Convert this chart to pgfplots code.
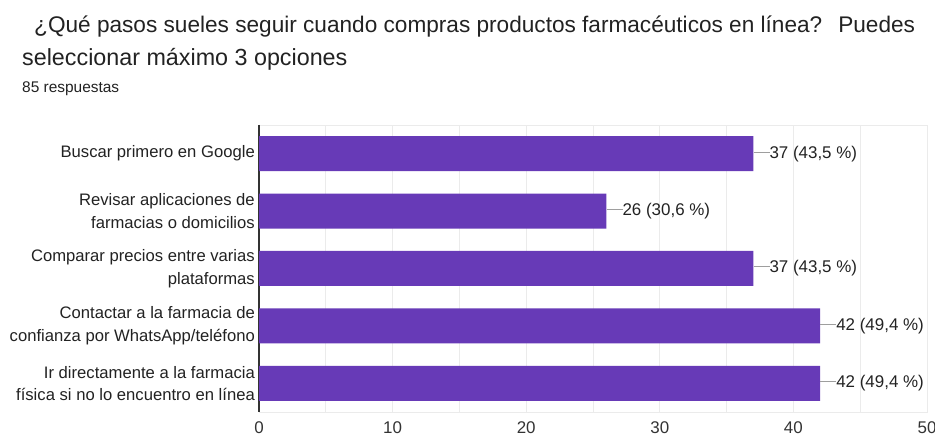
\documentclass[border=0pt]{standalone}
\usepackage{fontspec}
\setmainfont{Liberation Sans}
\usepackage{pgfplots}
\pgfplotsset{compat=1.18}
\definecolor{barc}{HTML}{673AB7}
\definecolor{gridc}{HTML}{EBEBEB}
\definecolor{axisc}{HTML}{333333}
\definecolor{txt}{HTML}{222222}
\definecolor{lead}{HTML}{9E9E9E}
\begin{document}
\begin{tikzpicture}[x=1bp,y=1bp]
\useasboundingbox (0,0) rectangle (935,438);
\node[anchor=base west, inner sep=0, font=\fontsize{22.7}{28}\selectfont, text=txt] at (34,405) {¿Qué pasos sueles seguir cuando compras productos farmacéuticos en línea?\hspace{16bp}Puedes};
\node[anchor=base west, inner sep=0, font=\fontsize{23.4}{28}\selectfont, text=txt] at (22,372) {seleccionar máximo 3 opciones};
\node[anchor=base west, inner sep=0, font=\fontsize{15.5}{18}\selectfont, text=txt] at (22,345) {85 respuestas};
\begin{axis}[
 at={(259bp,26bp)}, anchor=south west, scale only axis, width=668bp, height=287bp,
 xbar, bar width=35bp, xmin=0, xmax=50, ymin=-0.5, ymax=4.5, y dir=reverse,
 xtick={0,10,...,50}, minor xtick={5,15,...,45}, xmajorgrids, xminorgrids,
 grid style={gridc, line width=0.8pt}, minor grid style={gridc, line width=0.8pt},
 axis line style={gridc, line width=0.8pt},
 ytick={0,...,4},
 yticklabels={{Buscar primero en Google},{Revisar aplicaciones de\\farmacias o domicilios},{Comparar precios entre varias\\plataformas},{Contactar a la farmacia de\\confianza por WhatsApp/teléfono},{Ir directamente a la farmacia\\física si no lo encuentro en línea}},
 major tick length=0, minor tick length=0,
 /pgf/number format/assume math mode=true,
 tick label style={font=\fontsize{16.7}{22.5}\selectfont, text=txt},
 yticklabel style={align=right, inner sep=0, xshift=-4bp},
 xticklabel style={inner sep=0, yshift=-9bp, text=axisc, font=\fontsize{17}{20}\selectfont},
 extra x ticks={0}, extra x tick labels={}, extra x tick style={grid style={axisc, line width=1.2pt}},
 point meta=explicit symbolic,
 nodes near coords={\textcolor{lead}{\rule[0.33em]{16bp}{0.8pt}}\pgfplotspointmeta},
 every node near coord/.append style={anchor=west, inner sep=0, font=\fontsize{17}{20}\selectfont, text=txt},
]
\addplot[fill=barc, draw=none] coordinates {(37,0)[37 (43,5 \%)] (26,1)[26 (30,6 \%)] (37,2)[37 (43,5 \%)] (42,3)[42 (49,4 \%)] (42,4)[42 (49,4 \%)]};
\end{axis}
\end{tikzpicture}
\end{document}
